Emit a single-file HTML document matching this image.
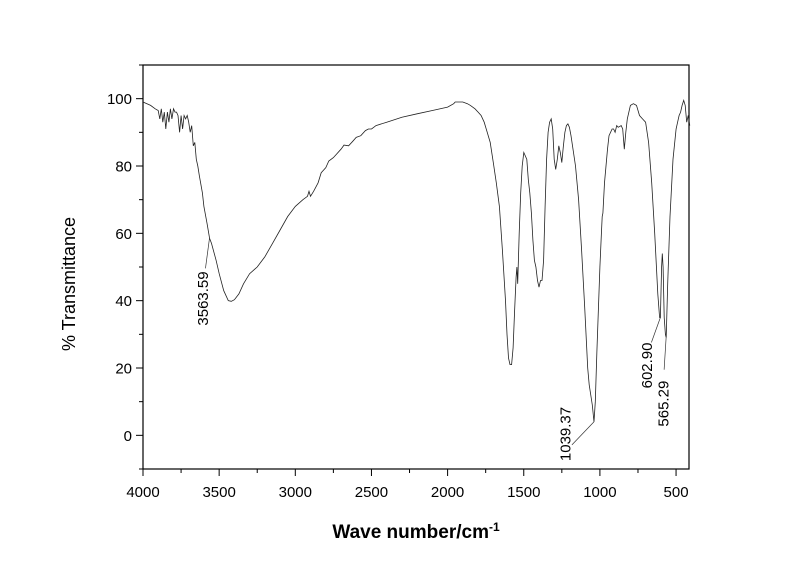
<!DOCTYPE html>
<html><head><meta charset="utf-8"><style>
body{margin:0;background:#fff;}
svg{display:block;font-family:"Liberation Sans",Arial,sans-serif;}
</style></head><body>
<svg id="chart" width="800" height="564"></svg>
<script>
const xTicks=[4000,3500,3000,2500,2000,1500,1000,500];
const yTicks=[0,20,40,60,80,100];
const wavenumbers=[4000,3950,3920,3900,3890,3880,3870,3860,3850,3840,3830,3820,3810,3800,3790,3780,3770,3760,3750,3740,3730,3720,3710,3700,3690,3680,3670,3660,3650,3640,3630,3610,3600,3580,3563,3550,3520,3500,3470,3440,3420,3400,3370,3340,3300,3250,3200,3150,3100,3050,3000,2950,2920,2910,2900,2880,2850,2830,2800,2780,2750,2700,2680,2650,2620,2600,2570,2540,2520,2500,2470,2400,2300,2200,2100,2000,1960,1950,1900,1870,1850,1820,1800,1780,1760,1740,1720,1700,1680,1660,1640,1620,1610,1600,1590,1580,1570,1560,1550,1545,1540,1530,1520,1510,1500,1490,1480,1470,1460,1450,1440,1430,1420,1410,1400,1390,1380,1370,1360,1350,1340,1330,1320,1310,1300,1290,1280,1270,1260,1250,1240,1230,1220,1210,1200,1190,1180,1160,1140,1120,1100,1080,1070,1050,1039,1030,1020,1000,990,985,980,970,950,940,920,910,900,890,880,860,850,840,830,820,800,780,760,740,720,700,680,660,640,620,608,603,595,590,585,578,570,565,555,540,520,500,490,480,470,460,450,440,430,420,410];
const transmittance=[99,98,97,96.5,94,97,93,96,91,96,93,97,94,97,96,96,95,90,95,91,95,94,95,93,90,92,86,87,82,80,77,72,68,63,58.5,57,52,48,43,40,39.8,40.3,42,45,48,50,53,57,61,65,68,70,71,72.5,71,72.5,75,78,79.5,81.5,82.5,85,86.2,86,87.5,88.5,89,90.5,91,91,92,93,94.5,95.5,96.5,97.5,98.5,99,99,98.5,98,97,96,95,93,90,87,81,75,68,55,40,30,23,21,21,26,37,47,50,45,60,72,80,84,83,82,76,72,66,58,52,50,46,44,46,46,52,68,82,90,93,94,91,82,79,82,86,84,81,86,90,92,92.5,91.5,89,86,80,70,55,38,20,15,9,4,10,25,50,60,65,66,75,85,89,91,91,90,92,91.5,92,91,85,90,94,98,98.5,98,95,94,93,87,75,60,42,35,35,50,54,50,35,30,29,45,65,82,91,93,95,96,98,99.5,98,93,95,92];
const peakLabels=["3563.59","1039.37","602.90","565.29"];
const peakX=[3563.59,1039.37,602.90,565.29];
const peakY=[58.5,4,35,29];

const NS="http://www.w3.org/2000/svg";
const svg=document.getElementById('chart');
const L=143,R=689,T=65,B=469;
const xMin=4000,xMax=415,yMin=-10,yMax=110;
function sx(v){return L+(xMin-v)/(xMin-xMax)*(R-L);}
function sy(v){return B-(v-yMin)/(yMax-yMin)*(B-T);}
function mk(tag,attrs,parent){const e=document.createElementNS(NS,tag);for(const k in attrs)e.setAttribute(k,attrs[k]);(parent||svg).appendChild(e);return e;}

const frame=mk('rect',{x:L,y:T,width:R-L,height:B-T,fill:'none',stroke:'#000','stroke-width':1.2});



xTicks.forEach(v=>{
  const x=sx(v);
  const t=mk('line',{x1:x,x2:x,y1:B,y2:B+7,stroke:'#000'});
  
  
  const m=sx(v-250);
  if(m<R){const mt=mk('line',{x1:m,x2:m,y1:B,y2:B+4,stroke:'#000'});
  
  }
  const lb=mk('text',{x:x,y:B+28,'text-anchor':'middle','font-size':15});
  lb.textContent=v;
  
  
});
yTicks.forEach(v=>{
  const y=sy(v);
  const t=mk('line',{x1:L-7,x2:L,y1:y,y2:y,stroke:'#000'});
  
  
  const lb=mk('text',{x:L-11,y:y+5.5,'text-anchor':'end','font-size':15});
  lb.textContent=v;
  
  
});
[-10,10,30,50,70,90,110].forEach(v=>{
  const y=sy(v);
  const t=mk('line',{x1:L-4,x2:L,y1:y,y2:y,stroke:'#000'});
  
  
});

const pts=wavenumbers.map((w,i)=>sx(w).toFixed(1)+','+sy(transmittance[i]).toFixed(1)).join(' ');
const line=mk('polyline',{points:pts,fill:'none',stroke:'#222','stroke-width':0.8});



// leader end offsets, label (center-x, top) offsets relative to peak
const leadOff=[[-4,30],[-22,23],[-9,25],[-2,32]];
const textOff=[[-7,33],[-29,-15],[-14,25],[-3,43]];
peakLabels.forEach((s,i)=>{
  const px=sx(peakX[i]),py=sy(peakY[i]);
  const ln=mk('line',{x1:px,y1:py,x2:px+leadOff[i][0],y2:py+leadOff[i][1],stroke:'#333','stroke-width':0.7});
  
  
  const tx=mk('text',{x:0,y:0,'font-size':15,'text-anchor':'end',transform:`translate(${px+textOff[i][0]+5.5},${py+textOff[i][1]}) rotate(-90)`});
  tx.textContent=s;
  
  
});

const yt=mk('text',{x:0,y:0,'font-size':18,'text-anchor':'middle',transform:'translate(75,284) rotate(-90)'});
yt.textContent='% Transmittance';


const xt=mk('text',{x:416,y:538,'font-size':19,'font-weight':'bold','text-anchor':'middle'});
xt.innerHTML='Wave number/cm<tspan dy="-7" font-size="12">-1</tspan>';


</script>
</body></html>
